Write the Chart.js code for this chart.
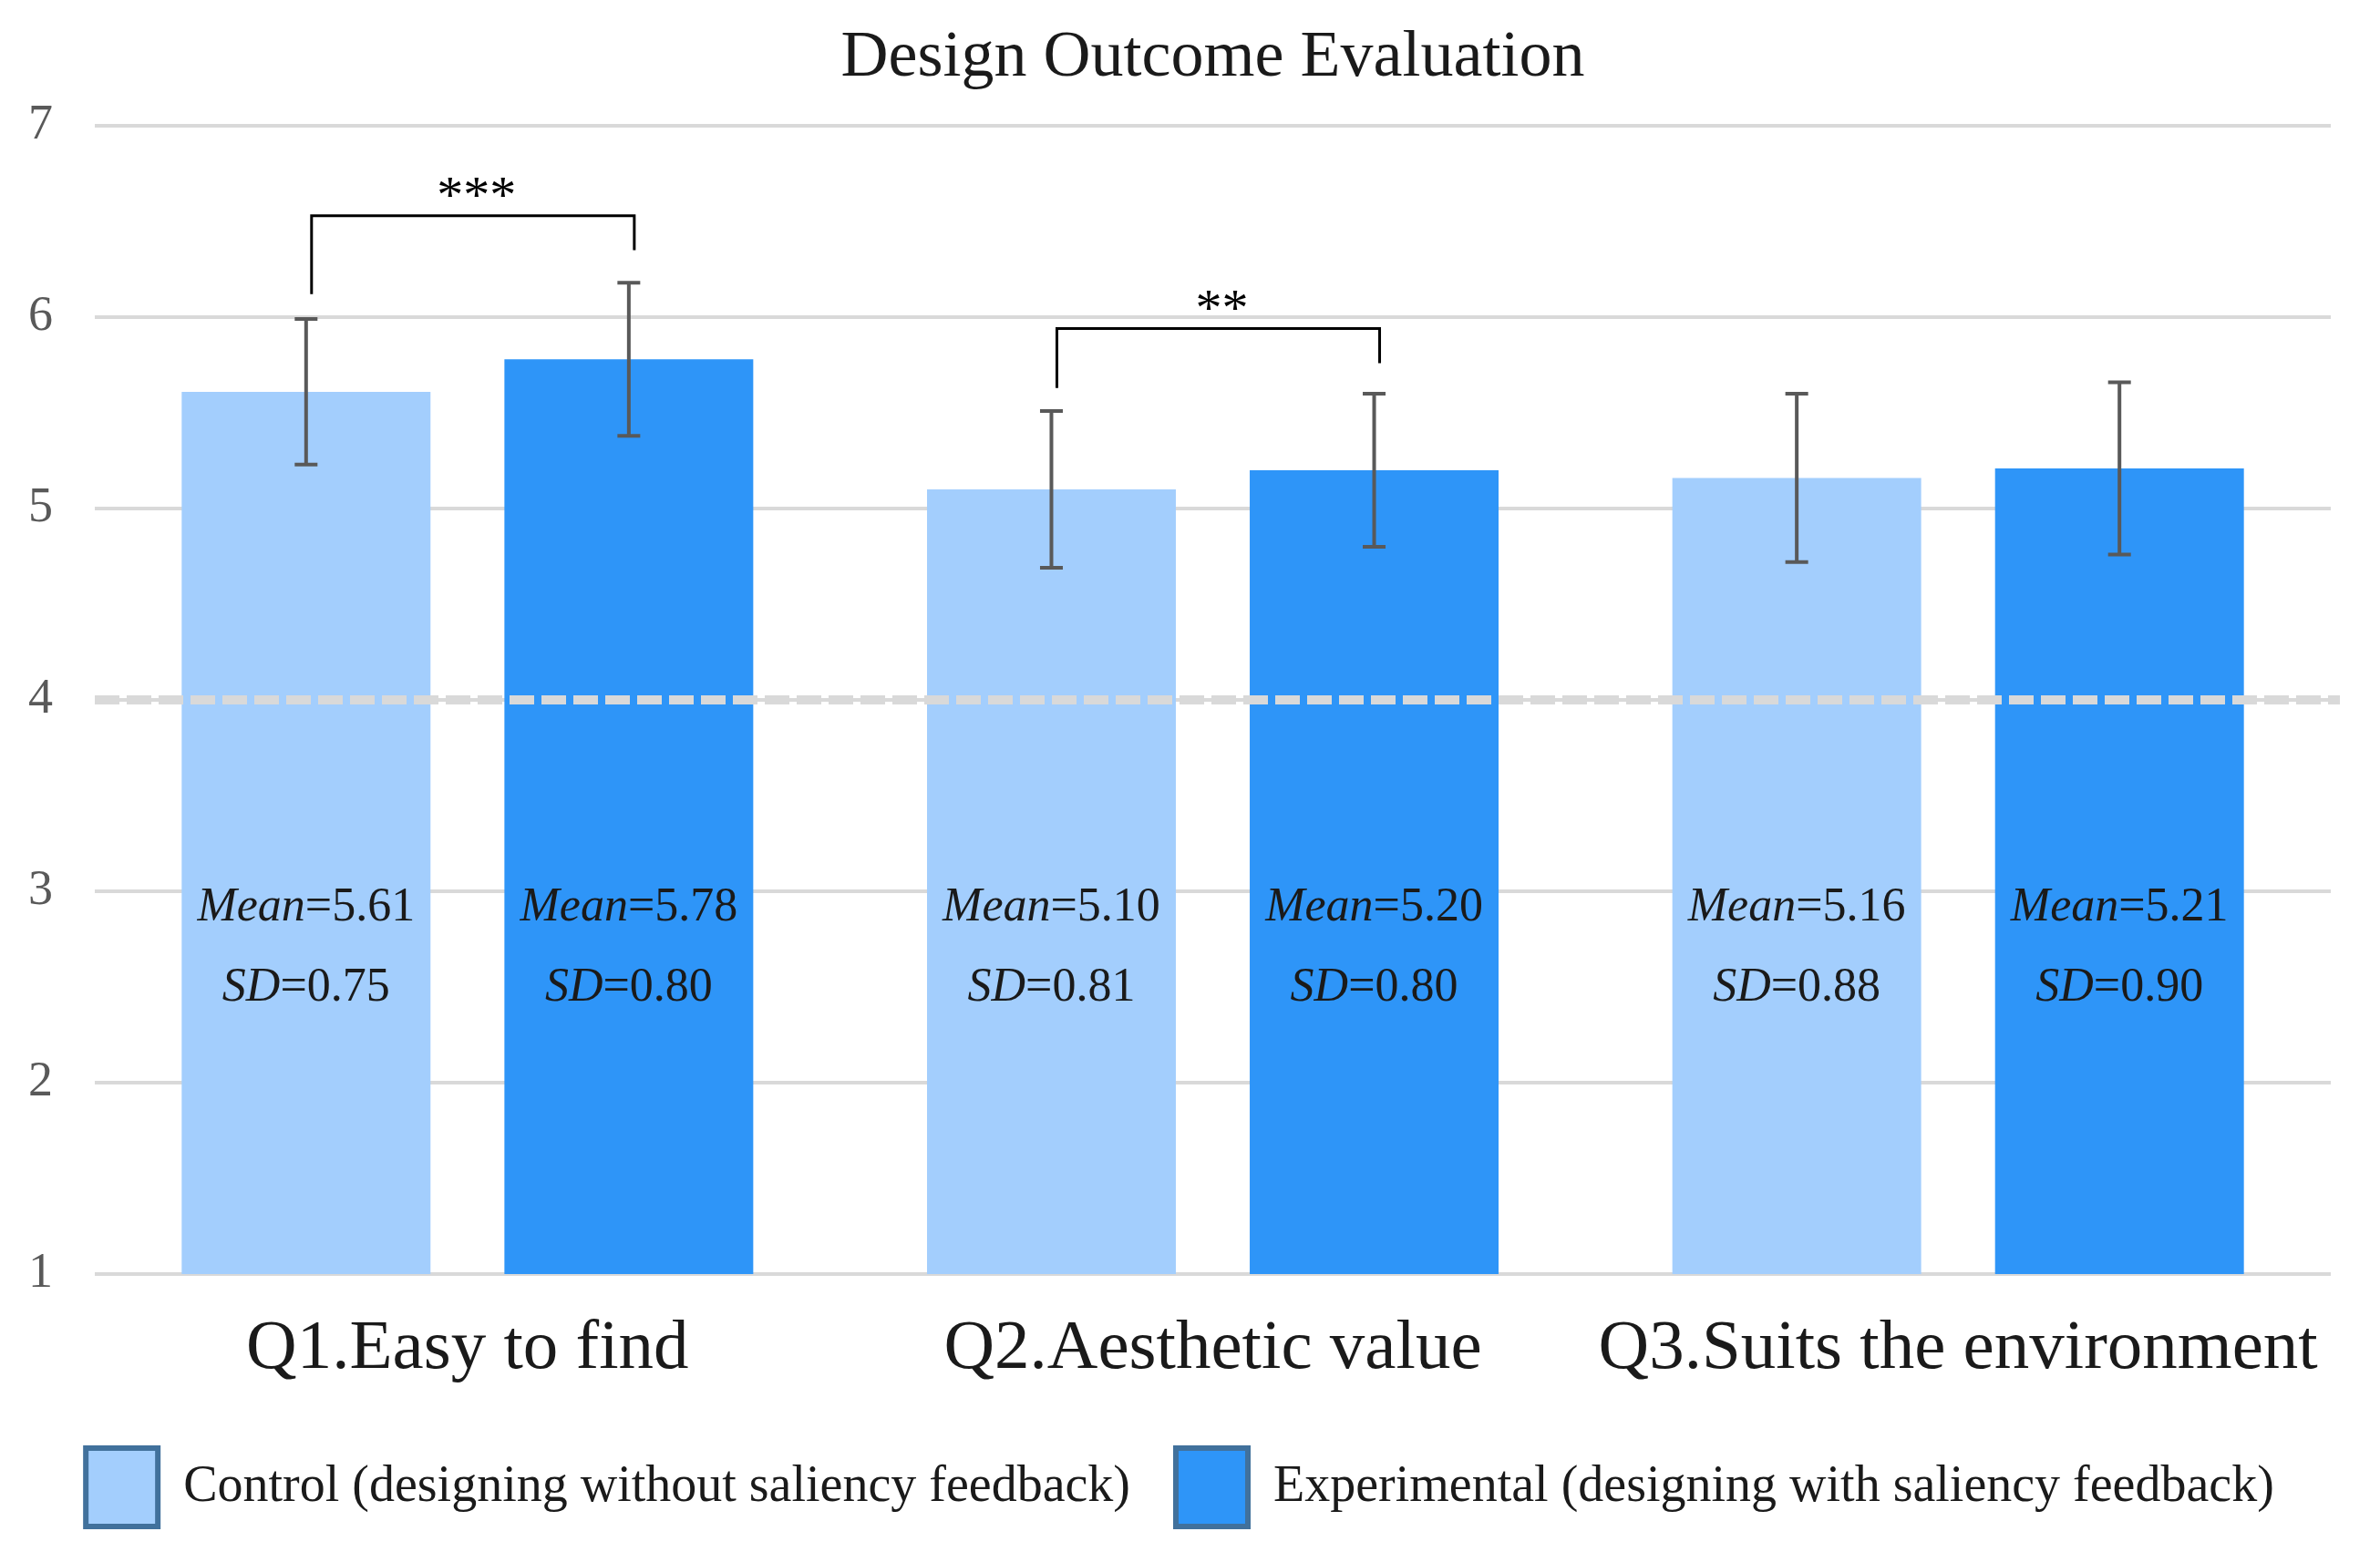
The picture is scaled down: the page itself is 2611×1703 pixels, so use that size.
<!DOCTYPE html>
<html>
<head>
<meta charset="utf-8">
<title>Design Outcome Evaluation</title>
<script src="https://cdn.jsdelivr.net/npm/chart.js@4.4.1/dist/chart.umd.min.js"></script>
<style>
  html, body { margin:0; padding:0; background:#fff; }
  canvas { display:block; }
</style>
</head>
<body>
<canvas id="chart" width="2611" height="1703"></canvas>
<script>
// ---------- DATA ----------
const chartTitle = "Design Outcome Evaluation";
const categories = ["Q1.Easy to find", "Q2.Aesthetic value", "Q3.Suits the environment"];
const seriesNames = ["Control (designing without saliency feedback)", "Experimental (designing with saliency feedback)"];
const controlMean = [5.61, 5.10, 5.16];
const expMean     = [5.78, 5.20, 5.21];
const controlSD   = [0.75, 0.81, 0.88];
const expSD       = [0.80, 0.80, 0.90];
// error bar half-lengths as drawn
const controlErr  = [0.38, 0.41, 0.44];
const expErr      = [0.40, 0.40, 0.45];
const yTicks      = [1, 2, 3, 4, 5, 6, 7];
const refValue    = 4;
// significance brackets: category, stars, left foot, top, right foot (y values)
const sigCats   = [0, 1];
const sigStars  = ["***", "**"];
const sigLeft   = [6.12, 5.63];
const sigTop    = [6.53, 5.94];
const sigRight  = [6.35, 5.76];

// ---------- STYLE ----------
const FONT = "'Liberation Serif', 'Times New Roman', serif";
const lightBlue = "#a3cefd";
const darkBlue = "#2e95f8";
const legendBorder = "#41719c";
const textColor = "#1a1a1a";
const meanLabelY = 2.85;   // baseline of "Mean=" text (value units)
const sdLabelY = 2.43;     // baseline of "SD=" text

// ---------- OVERLAY PLUGIN ----------
const overlay = {
  id: "overlay",
  afterDraw(chart) {
    // title centred over the plot area
    const ctx = chart.ctx;
    const area = chart.chartArea;
    ctx.save();
    ctx.fillStyle = textColor;
    ctx.font = "72px " + FONT;
    ctx.textAlign = "center";
    ctx.textBaseline = "alphabetic";
    ctx.fillText(chartTitle, (area.left + area.right) / 2, 83);
    ctx.restore();
  },
  afterDatasetsDraw(chart) {
    const ctx = chart.ctx;
    const y = chart.scales.y;
    const area = chart.chartArea;
    const errs = [controlErr, expErr];
    const means = [controlMean, expMean];
    const sds = [controlSD, expSD];

    // dashed reference line at 4
    ctx.save();
    ctx.strokeStyle = "#d9d9d9";
    ctx.lineWidth = 10;
    ctx.setLineDash([27, 8]);
    ctx.beginPath();
    ctx.moveTo(area.left, y.getPixelForValue(refValue));
    ctx.lineTo(area.right + 10, y.getPixelForValue(refValue));
    ctx.stroke();
    ctx.restore();

    // error bars + text labels
    chart.data.datasets.forEach((ds, di) => {
      const meta = chart.getDatasetMeta(di);
      meta.data.forEach((bar, i) => {
        const x = bar.x;
        const top = y.getPixelForValue(means[di][i] + errs[di][i]);
        const bot = y.getPixelForValue(means[di][i] - errs[di][i]);
        ctx.save();
        ctx.strokeStyle = "#595959";
        ctx.lineWidth = 4;
        ctx.beginPath();
        ctx.moveTo(x, top); ctx.lineTo(x, bot);
        ctx.moveTo(x - 12.5, top); ctx.lineTo(x + 12.5, top);
        ctx.moveTo(x - 12.5, bot); ctx.lineTo(x + 12.5, bot);
        ctx.stroke();
        ctx.restore();

        drawSplit(ctx, x, y.getPixelForValue(meanLabelY), "Mean", "=" + means[di][i].toFixed(2));
        drawSplit(ctx, x, y.getPixelForValue(sdLabelY), "SD", "=" + sds[di][i].toFixed(2));
      });
    });

    // brackets
    sigCats.forEach((c, k) => {
      const xL = chart.getDatasetMeta(0).data[c].x + 6;
      const xR = chart.getDatasetMeta(1).data[c].x + 6;
      const yT = y.getPixelForValue(sigTop[k]);
      ctx.save();
      ctx.strokeStyle = "#000";
      ctx.lineWidth = 3;
      ctx.beginPath();
      ctx.moveTo(xL, y.getPixelForValue(sigLeft[k]));
      ctx.lineTo(xL, yT);
      ctx.lineTo(xR, yT);
      ctx.lineTo(xR, y.getPixelForValue(sigRight[k]));
      ctx.stroke();
      ctx.fillStyle = "#000";
      ctx.font = "58px " + FONT;
      ctx.textAlign = "center";
      ctx.textBaseline = "alphabetic";
      ctx.fillText(sigStars[k], (xL + xR) / 2 + 4, yT - 4);
      ctx.restore();
    });
  }
};

function drawSplit(ctx, cx, baseY, italicPart, rest){
  ctx.save();
  ctx.fillStyle = textColor;
  ctx.textBaseline = "alphabetic";
  ctx.textAlign = "left";
  ctx.font = "italic 52px " + FONT;
  const w1 = ctx.measureText(italicPart).width;
  ctx.font = "52px " + FONT;
  const w2 = ctx.measureText(rest).width;
  const x0 = cx - (w1 + w2) / 2;
  ctx.font = "italic 52px " + FONT;
  ctx.fillText(italicPart, x0, baseY);
  ctx.font = "52px " + FONT;
  ctx.fillText(rest, x0 + w1, baseY);
  ctx.restore();
}

// ---------- CHART ----------
Chart.defaults.font.family = FONT;
const ctx = document.getElementById("chart").getContext("2d");
const myChart = new Chart(ctx, {
  type: "bar",
  data: {
    labels: categories,
    datasets: [
      { label: seriesNames[0], data: controlMean, backgroundColor: lightBlue, borderWidth: 0 },
      { label: seriesNames[1], data: expMean, backgroundColor: darkBlue, borderWidth: 0 }
    ]
  },
  options: {
    responsive: false,
    animation: false,
    devicePixelRatio: 1,
    categoryPercentage: 0.866,
    barPercentage: 0.771,
    layout: { autoPadding: false, padding: { left: 32, right: 54, top: 138, bottom: 18 } },
    scales: {
      x: {
        grid: { display: false, drawTicks: false },
        border: { display: false },
        ticks: { font: { size: 77 }, color: textColor, padding: 37, maxRotation: 0, autoSkip: false },
        afterFit: axis => { axis.height = 141; }
      },
      y: {
        min: 1, max: 7,
        afterBuildTicks: axis => { axis.ticks = yTicks.map(v => ({ value: v })); },
        grid: { color: "#d9d9d9", lineWidth: 4, drawTicks: false },
        border: { display: false },
        ticks: { font: { size: 54 }, color: "#595959", padding: 46 },
        afterFit: axis => { axis.width = 72; }
      }
    },
    plugins: {
      title: { display: false },
      legend: {
        position: "bottom",
        labels: {
          boxWidth: 79,
          boxHeight: 86,
          padding: 50,
          font: { size: 56 },
          color: textColor,
          generateLabels: chart => chart.data.datasets.map((ds, i) => ({
            text: ds.label,
            fillStyle: ds.backgroundColor,
            strokeStyle: legendBorder,
            lineWidth: 6,
            fontColor: textColor,
            hidden: false,
            datasetIndex: i
          }))
        }
      },
      tooltip: { enabled: false }
    }
  },
  plugins: [overlay]
});
</script>
</body>
</html>
